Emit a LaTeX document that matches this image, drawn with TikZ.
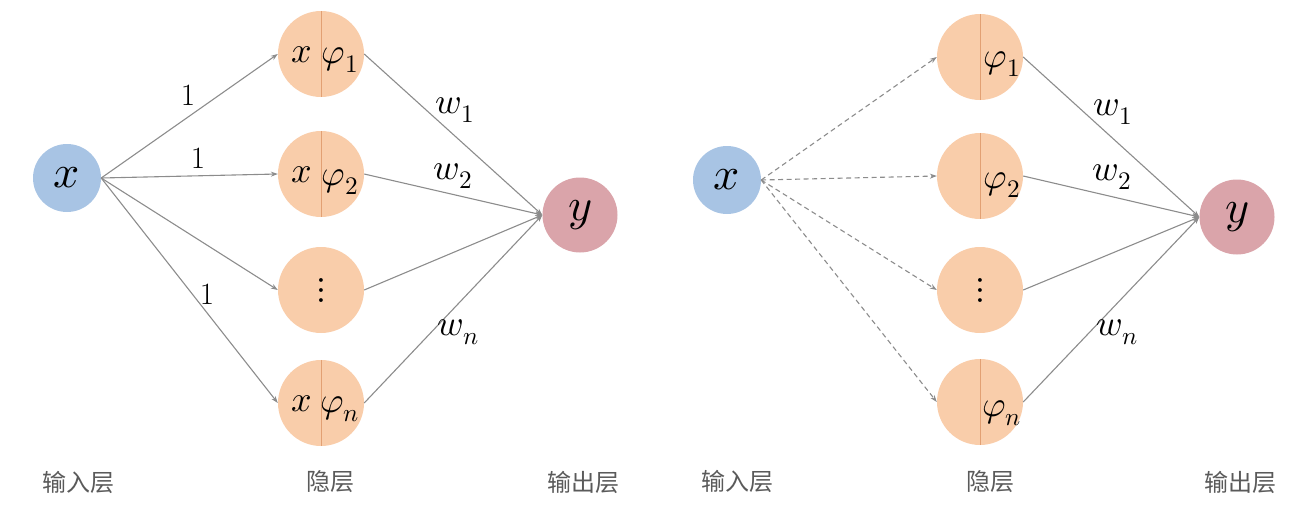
\documentclass[tikz,border=0pt]{standalone}
\usepackage{fontspec}
\usepackage{unicode-math}
\setmathfont{Latin Modern Math}
\newfontfamily\cjk{Noto Sans CJK SC}
\usetikzlibrary{arrows.meta}
\definecolor{inblue}{RGB}{168,196,228}
\definecolor{hidor}{RGB}{249,205,170}
\definecolor{hidline}{RGB}{226,160,115}
\definecolor{outpink}{RGB}{218,164,170}
\definecolor{edgegray}{RGB}{140,140,140}
\definecolor{labgray}{RGB}{90,90,90}
\tikzset{
  innode/.style={circle,fill=inblue,minimum size=68pt,inner sep=0pt},
  hidnode/.style={circle,fill=hidor,minimum size=86pt,inner sep=0pt},
  outnode/.style={circle,fill=outpink,minimum size=75pt,inner sep=0pt},
  bigmath/.style={font=\fontsize{46}{50}\selectfont,inner sep=0pt},
  midmath/.style={font=\fontsize{36}{40}\selectfont,inner sep=0pt},
  numlab/.style={font=\fontsize{31}{34}\selectfont,inner sep=0pt},
  layerlab/.style={font=\cjk\fontsize{24}{28}\selectfont,text=labgray},
  conn/.style={draw=edgegray,line width=1.1pt,-{Stealth[length=7pt,width=5pt]}},
  dconn/.style={conn,dash pattern=on 5pt off 3.5pt},
  divider/.style={draw=hidline,line width=0.9pt},
}
\begin{document}
\begin{tikzpicture}[x=1pt,y=-1pt]
\useasboundingbox (0,0) rectangle (1316,514);
% ---------- left diagram ----------
\node[innode] (X1) at (67,178) {};
\node[bigmath] at (X1) {$x$};
\foreach \n/\yy in {1/54,2/174,3/290,4/403}{
  \node[hidnode] (H\n) at (321,\yy) {};
}
\foreach \n in {1,2,4}{
  \draw[divider] (H\n.north) -- (H\n.south);
}
\node[midmath] at ([xshift=-19pt,yshift=-1pt]H1.center) {$x$};
\node[midmath] at ([xshift=19pt,yshift=-6pt]H1.center) {$\varphi_1$};
\node[midmath] at ([xshift=-19pt,yshift=-1pt]H2.center) {$x$};
\node[midmath] at ([xshift=19pt,yshift=-8pt]H2.center) {$\varphi_2$};
\node[midmath] at (H3.center) {$\vdots$};
\node[midmath] at ([xshift=-19pt,yshift=-1pt]H4.center) {$x$};
\node[midmath] at ([xshift=19pt,yshift=-6pt]H4.center) {$\varphi_n$};
\node[outnode] (Y1) at (580,215) {};
\node[bigmath] at (Y1) {$y$};
\foreach \n in {1,2,3,4}{
  \draw[conn] (X1.east) -- (H\n.west);
  \draw[conn] (H\n.east) -- (Y1.west);
}
\node[numlab] at (188,95) {1};
\node[numlab] at (198,158) {1};
\node[numlab] at (207,294) {1};
\node[midmath] at (455,110) {$w_1$};
\node[midmath] at (453,176) {$w_2$};
\node[midmath] at (458,332) {$w_n$};
\node[layerlab] (L1) at (78,482) {输入层};
\node[layerlab] (L2) at (330,482) {隐层};
\node[layerlab] (L3) at (583,482) {输出层};
% ---------- right diagram ----------
\node[innode] (X2) at (727,180) {};
\node[bigmath] at (X2) {$x$};
\foreach \n/\yy in {1/57,2/176,3/290,4/402}{
  \node[hidnode] (G\n) at (980,\yy) {};
}
\foreach \n in {1,2,4}{
  \draw[divider] (G\n.north) -- (G\n.south);
}
\node[midmath] at ([xshift=22pt,yshift=-7pt]G1.center) {$\varphi_1$};
\node[midmath] at ([xshift=22pt,yshift=-9pt]G2.center) {$\varphi_2$};
\node[midmath] at (G3.center) {$\vdots$};
\node[midmath] at ([xshift=22pt,yshift=-11pt]G4.center) {$\varphi_n$};
\node[outnode] (Y2) at (1237,217) {};
\node[bigmath] at (Y2) {$y$};
\foreach \n in {1,2,3,4}{
  \draw[dconn] (X2.east) -- (G\n.west);
  \draw[conn] (G\n.east) -- (Y2.west);
}
\node[midmath] at (1113,112) {$w_1$};
\node[midmath] at (1112,177) {$w_2$};
\node[midmath] at (1117,332) {$w_n$};
\node[layerlab] (R1) at (737,481) {输入层};
\node[layerlab] (R2) at (990,482) {隐层};
\node[layerlab] (R3) at (1240,482) {输出层};
\end{tikzpicture}
\end{document}
